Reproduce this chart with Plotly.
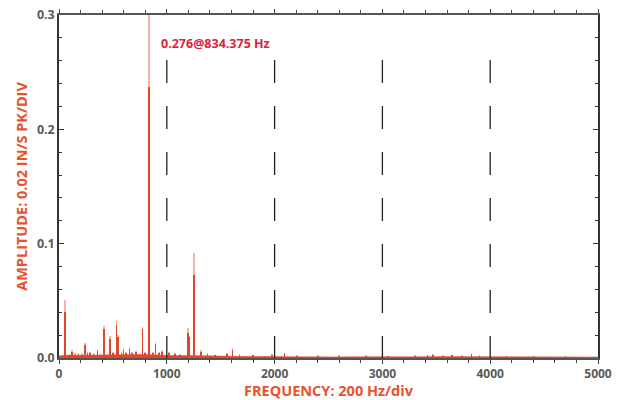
import plotly.graph_objects as go

# Peak frequencies (Hz), peak-hold amplitude (light) and average amplitude (dark)
peak_freq = [56, 60, 118, 150, 180, 215, 241, 246, 265, 288, 320, 356, 385, 418, 474, 500, 533,
             545, 580, 598, 620, 653, 680, 715, 774, 800,
             831, 834.375, 837, 870, 895, 930, 957, 1019, 1077, 1120, 1195, 1204, 1250, 1254,
             1258, 1319, 1378, 1450, 1557, 1610, 1675, 1800, 1975, 2093, 2210, 2400, 2600,
             2850, 3050, 3300, 3420, 3467, 3560, 3646, 3740, 3828, 3900, 4150, 4400, 4700]
peak_hold = [0.0507, 0.012, 0.0070, 0.0040, 0.0045, 0.0040, 0.0135, 0.0080, 0.0055, 0.0055,
             0.0045, 0.0075, 0.0040, 0.0280, 0.0190, 0.0050, 0.0335,
             0.0200, 0.0050, 0.0085, 0.0050, 0.0095, 0.0050, 0.0065, 0.0275, 0.0050,
             0.110, 0.310, 0.052, 0.0050, 0.0140, 0.0050, 0.0068, 0.0055, 0.0045, 0.0035,
             0.0265, 0.0195, 0.0290, 0.0920, 0.066, 0.0068, 0.0040, 0.0030, 0.0045, 0.0085,
             0.0038, 0.0028, 0.0038, 0.0048, 0.0025, 0.0022, 0.0022,
             0.0022, 0.0020, 0.0022, 0.0028, 0.0034, 0.0026, 0.0030, 0.0025, 0.0037, 0.0024,
             0.0020, 0.0018, 0.0018]
average = [0.0400, 0.010, 0.0055, 0.0030, 0.0035, 0.0030, 0.0110, 0.0065, 0.0045, 0.0045,
           0.0035, 0.0060, 0.0030, 0.0250, 0.0170, 0.0040, 0.0285,
           0.0180, 0.0040, 0.0070, 0.0040, 0.0080, 0.0040, 0.0055, 0.0250, 0.0040,
           0.109, 0.237, 0.050, 0.0040, 0.0120, 0.0040, 0.0055, 0.0045, 0.0035, 0.0028,
           0.0220, 0.0180, 0.0280, 0.0725, 0.064, 0.0055, 0.0032, 0.0024, 0.0035, 0.0070,
           0.0030, 0.0022, 0.0030, 0.0040, 0.0020, 0.0017, 0.0017,
           0.0017, 0.0016, 0.0017, 0.0022, 0.0028, 0.0020, 0.0025, 0.0020, 0.0031, 0.0019,
           0.0016, 0.0014, 0.0014]

# Noise floor read every 100 Hz
floor_freq = [0, 100, 200, 300, 400, 500, 600, 700, 800, 900, 1000, 1100, 1200, 1300, 1400,
              1500, 1600, 1700, 1800, 1900, 2000, 2100, 2200, 2300, 2400, 2500, 2600, 2700,
              2800, 2900, 3000, 3100, 3200, 3300, 3400, 3500, 3600, 3700, 3800, 3900, 4000,
              4100, 4200, 4300, 4400, 4500, 4600, 4700, 4800, 4900, 5000]
floor_amp = [0.0018, 0.0026, 0.0024, 0.0026, 0.0028, 0.0030, 0.0029, 0.0028, 0.0030, 0.0026,
             0.0022, 0.0020, 0.0021, 0.0018, 0.0015, 0.0014, 0.0015, 0.0013, 0.0012, 0.0012,
             0.0012, 0.0013, 0.0011, 0.0010, 0.0010, 0.0010, 0.0009, 0.0010, 0.0009, 0.0010,
             0.0010, 0.0010, 0.0009, 0.0010, 0.0012, 0.0013, 0.0012, 0.0013, 0.0014, 0.0012,
             0.0011, 0.0010, 0.0010, 0.0009, 0.0009, 0.0009, 0.0009, 0.0008, 0.0008, 0.0008,
             0.0008]

grid_x = [1000, 2000, 3000, 4000]
x_ticks = [0, 1000, 2000, 3000, 4000, 5000]
x_labels = ["0", "1000", "2000", "3000", "4000", "5000"]
y_ticks = [0.0, 0.1, 0.2, 0.3]
y_labels = ["0.0", "0.1", "0.2", "0.3"]

peak_label = "0.276@834.375 Hz"
peak_f = 834.375

DARK = "#e2462a"
LIGHT = "#f5b4a6"
TITLE_C = "#e8522c"
TICK_C = "#5a5a5a"
FONT = "Open Sans"

fig = go.Figure()
fig.add_trace(go.Scatter(x=floor_freq, y=floor_amp, mode="lines", fill="tozeroy",
                         line=dict(color=DARK, width=0.6), fillcolor=DARK,
                         hoverinfo="skip", showlegend=False))
fig.add_trace(go.Bar(x=peak_freq, y=peak_hold, width=6, marker=dict(color=LIGHT, line=dict(width=0)),
                     showlegend=False))
fig.add_trace(go.Bar(x=peak_freq, y=average, width=6, marker=dict(color=DARK, line=dict(width=0)),
                     showlegend=False))

for gx in grid_x:
    fig.add_shape(type="line", x0=gx, x1=gx, y0=0.2606, y1=0, xref="x", yref="y",
                  line=dict(color="#222222", width=1.3, dash="23px,23px"), layer="above")

fig.add_annotation(x=peak_f, y=0.2755, xref="x", yref="y", text="<b>" + peak_label + "</b>",
                   showarrow=False, xanchor="left", xshift=10,
                   font=dict(family=FONT, size=12.5, color="#d9253a"))

fig.update_layout(
    width=618, height=400,
    margin=dict(l=59, r=20, t=15, b=42, autoexpand=False),
    paper_bgcolor="white", plot_bgcolor="white",
    barmode="overlay", bargap=0,
    font=dict(family=FONT, color=TICK_C),
    xaxis=dict(range=[0, 5000], tickvals=x_ticks, ticktext=["<b>%s</b>" % t for t in x_labels],
               ticks="outside", ticklen=4, tickwidth=1, tickcolor="#444",
               minor=dict(dtick=200, ticks="outside", ticklen=3, tickcolor="#444"),
               showline=True, linecolor="#555", linewidth=1.5, mirror="ticks",
               showgrid=False, zeroline=False, automargin=False,
               tickfont=dict(family=FONT, size=12, color=TICK_C),
               title=dict(text="<b>FREQUENCY: 200 Hz/div</b>", standoff=9,
                          font=dict(family=FONT, size=14.5, color=TITLE_C))),
    yaxis=dict(range=[0, 0.3], tickvals=y_ticks, ticktext=["<b>%s</b>" % t for t in y_labels],
               ticks="inside", ticklen=5, tickwidth=1, tickcolor="#333",
               minor=dict(dtick=0.02, ticks="inside", ticklen=3, tickcolor="#333"),
               showline=True, linecolor="#333", linewidth=1.5, mirror="ticks",
               showgrid=False, zeroline=False, automargin=False,
               tickfont=dict(family=FONT, size=12.5, color=TICK_C),
               title=dict(text="<b>AMPLITUDE: 0.02 IN/S PK/DIV</b>", standoff=6,
                          font=dict(family=FONT, size=14.5, color=TITLE_C))),
)

fig.write_html("out.html", config={"displayModeBar": False},
               post_script="document.body.style.margin='0';")
